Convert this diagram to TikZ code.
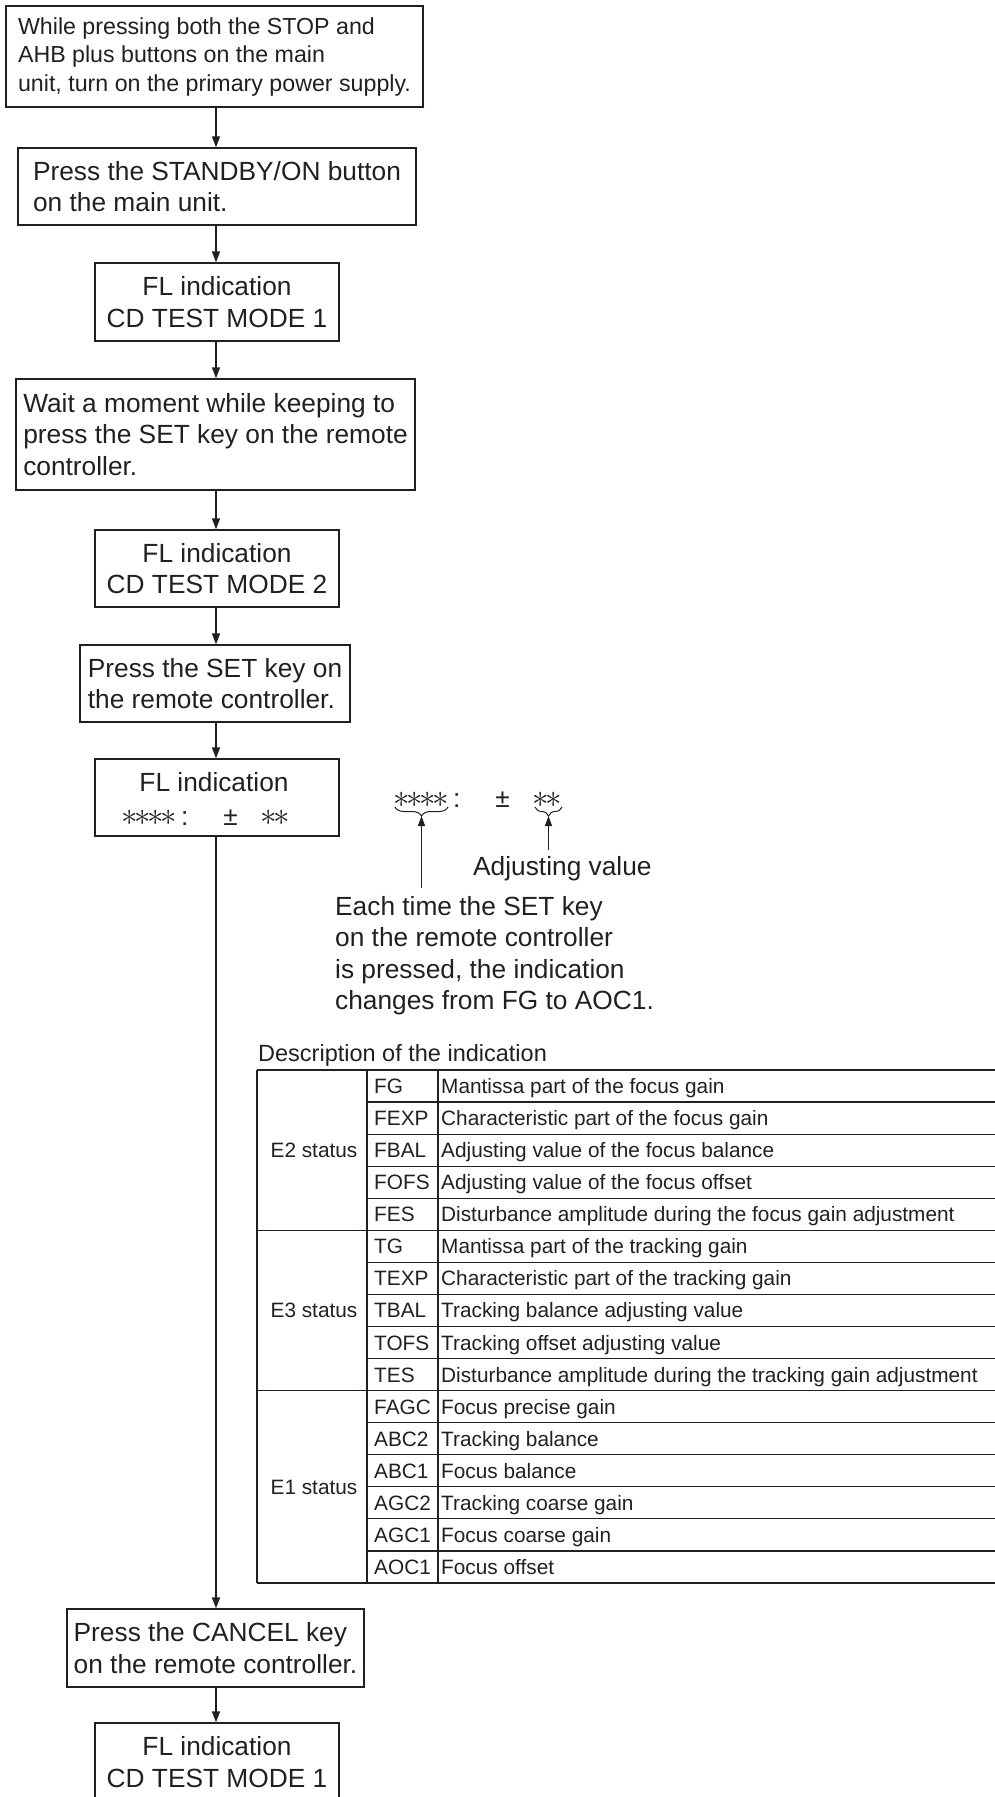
\documentclass[tikz,border=0pt]{standalone}
\usepackage{fontspec}
\setmainfont{Liberation Sans}
\usetikzlibrary{arrows.meta,decorations.pathreplacing}
\definecolor{ink}{HTML}{231F20}
\newcommand{\stx}{\makebox[13pt]{\scalebox{1.32}{$\ast$}}}
\newcommand{\indstr}{\stx\stx\stx\stx\hspace{6pt}:\hspace{35pt}±\hspace{24pt}\stx\stx}
\tikzset{
  fbox/.style={draw=ink, line width=1.3pt, inner sep=0pt, text=ink},
  flow/.style={draw=ink, line width=1.3pt, -{Triangle[length=11pt,width=8pt]}},
  tline/.style={draw=ink, line width=1.2pt},
  ttext/.style={text=ink, inner sep=0pt, font=\fontsize{20.8}{24}\selectfont},
  mainfont/.style={font=\fontsize{26.3}{31.5}\selectfont},
}
\begin{document}
\begin{tikzpicture}[x=1pt,y=1pt,mainfont,text=ink]
\useasboundingbox (0,0) rectangle (995,-1797);
\coordinate (ax) at (216,0);
% flow boxes
\node[fbox, minimum width=417, minimum height=101, align=left, font=\fontsize{23.2}{28.5}\selectfont] (b1) at (214.5,-56.5)
  {While pressing both the STOP and\\AHB plus buttons on the main\\unit, turn on the primary power supply.};
\node[fbox, minimum width=398, minimum height=77, align=left] (b2) at (217,-186.5)
  {Press the STANDBY/ON button\\on the main unit.};
\node[fbox, minimum width=244, minimum height=78, align=center] (b3) at (217,-302)
  {FL indication\\CD TEST MODE 1};
\node[fbox, minimum width=399, minimum height=111, align=left] (b4) at (215.5,-434.5)
  {Wait a moment while keeping to\\press the SET key on the remote\\controller.};
\node[fbox, minimum width=244, minimum height=77, align=center] (b5) at (217,-568.5)
  {FL indication\\CD TEST MODE 2};
\node[fbox, minimum width=270, minimum height=77, align=left] (b6) at (215,-683.5)
  {Press the SET key on\\the remote controller.};
\node[fbox, minimum width=244, minimum height=77] (b7) at (217,-797.5) {};
\node[anchor=base, inner sep=0pt] (b7t) at (214,-791) {FL indication};
\node[anchor=base west, inner sep=0pt] (b7i) at (123,-825) {\indstr};
\node[fbox, minimum width=297, minimum height=78, align=left] (b8) at (215.5,-1648)
  {Press the CANCEL key\\on the remote controller.};
\node[fbox, minimum width=244, minimum height=78, align=center] (b9) at (217,-1762)
  {FL indication\\CD TEST MODE 1};
% connectors
\draw[flow] (b1.south -| ax) -- (b2.north -| ax);
\draw[flow] (b2.south -| ax) -- (b3.north -| ax);
\draw[flow] (b3.south -| ax) -- (b4.north -| ax);
\draw[flow] (b4.south -| ax) -- (b5.north -| ax);
\draw[flow] (b5.south -| ax) -- (b6.north -| ax);
\draw[flow] (b6.south -| ax) -- (b7.north -| ax);
\draw[flow] (b7.south -| ax) -- (b8.north -| ax);
\draw[flow] (b8.south -| ax) -- (b9.north -| ax);
% annotation
\node[anchor=base west, inner sep=0pt] (ind) at (395,-807) {\indstr};
\draw[ink, line width=1pt, decorate, decoration={brace, mirror, amplitude=9pt}] (395,-807) -- (448,-807);
\draw[ink, line width=1pt, decorate, decoration={brace, mirror, amplitude=9pt}] (535,-807) -- (562,-807);
\coordinate (bt1) at (421.5,-816);
\coordinate (bt2) at (548.5,-816);
\coordinate (a1) at (421.5,-888);
\coordinate (a2) at (548.5,-850);
\draw[ink, line width=1.2pt, -{Triangle[length=10pt,width=7pt]}] (a1) -- (bt1);
\draw[ink, line width=1.2pt, -{Triangle[length=10pt,width=7pt]}] (a2) -- (bt2);
\node[anchor=base west, inner sep=0pt] (adj) at (473,-875) {Adjusting value};
\node[anchor=north west, inner sep=0pt, align=left] (each) at (335,-896)
  {Each time the SET key\\on the remote controller\\is pressed, the indication\\changes from FG to AOC1.};
% table
\node[anchor=base west, inner sep=0pt, font=\fontsize{23.5}{28}\selectfont] (desc) at (258,-1061) {Description of the indication};
\def\rh{32.06}
\draw[tline] (257,-1070) -- (1000,-1070);
\draw[tline] (257,-1583) -- (1000,-1583);
\draw[tline] (257,-1070) -- (257,-1583);
\draw[tline] (367,-1070) -- (367,-1583);
\draw[tline] (438,-1070) -- (438,-1583);
\draw[tline] (257,{-(1070+5*\rh)}) -- (1000,{-(1070+5*\rh)});
\draw[tline] (257,{-(1070+10*\rh)}) -- (1000,{-(1070+10*\rh)});
\foreach \r in {1,2,3,4,6,7,8,9,11,12,13,14,15}
  \draw[tline] (367,{-(1070+\r*\rh)}) -- (1000,{-(1070+\r*\rh)});
\foreach \code/\desc [count=\i] in {
  FG/Mantissa part of the focus gain,
  FEXP/Characteristic part of the focus gain,
  FBAL/Adjusting value of the focus balance,
  FOFS/Adjusting value of the focus offset,
  FES/Disturbance amplitude during the focus gain adjustment,
  TG/Mantissa part of the tracking gain,
  TEXP/Characteristic part of the tracking gain,
  TBAL/Tracking balance adjusting value,
  TOFS/Tracking offset adjusting value,
  TES/Disturbance amplitude during the tracking gain adjustment,
  FAGC/Focus precise gain,
  ABC2/Tracking balance,
  ABC1/Focus balance,
  AGC2/Tracking coarse gain,
  AGC1/Focus coarse gain,
  AOC1/Focus offset}
{
  \node[ttext, anchor=base west] (c\i) at (374,{-(1070+(\i-0.5)*\rh+7.5)}) {\code};
  \node[ttext, anchor=base west] (d\i) at (441,{-(1070+(\i-0.5)*\rh+7.5)}) {\desc};
}
\node[ttext, anchor=base] (e2) at (314,{-(1070+2.5*\rh+7.5)}) {E2 status};
\node[ttext, anchor=base] (e3) at (314,{-(1070+7.5*\rh+7.5)}) {E3 status};
\node[ttext, anchor=base] (e1) at (314,{-(1070+13*\rh+7.5)}) {E1 status};
\end{tikzpicture}
\end{document}
